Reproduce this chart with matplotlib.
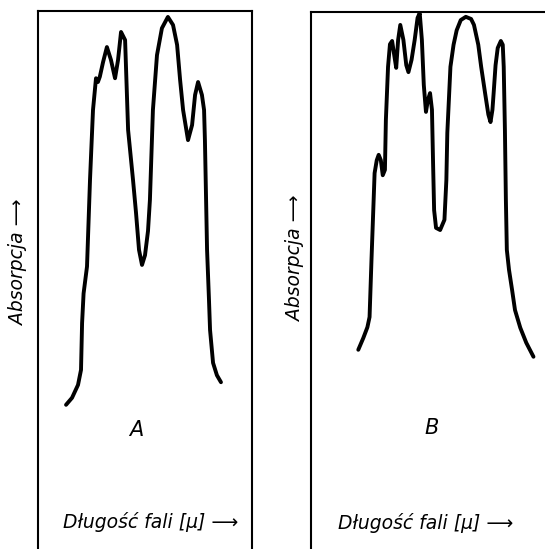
import matplotlib
matplotlib.use("Agg")
import matplotlib.pyplot as plt

# Panel A: relative wavelength (0-100 across frame) and absorption (0-100, top frame = 100)
wave_a = [13.1, 15.9, 18.7, 20.1, 20.6, 21.3, 22.9, 24.3, 25.7, 27.1, 28.0, 28.9, 30.4, 32.2, 34.1,
          36.0, 37.4, 38.8, 40.7, 42.1, 44.4, 45.8, 47.2, 48.6, 50.0, 51.4, 52.3, 53.7, 55.6,
          57.9, 60.7, 63.1, 65.0, 66.4, 67.8, 70.1, 72.0, 73.4, 74.8, 76.6, 77.6, 78.0, 79.0,
          79.9, 80.4, 81.8, 83.6, 85.5]
abs_a = [26.8, 28.1, 30.5, 33.3, 42.0, 47.5, 52.5, 68.6, 81.6, 87.5, 86.8, 87.8, 90.5, 93.3, 90.9,
         87.5, 90.9, 96.1, 94.6, 77.9, 68.6, 62.5, 55.6, 52.8, 54.6, 59.1, 64.9, 81.6, 91.8,
         96.8, 98.9, 97.4, 93.7, 87.2, 81.6, 76.0, 78.8, 84.4, 86.8, 84.4, 81.6, 76.0, 55.6,
         46.3, 40.7, 34.6, 32.3, 31.0]

# Panel B
wave_b = [19.7, 21.8, 23.5, 24.4, 25.2, 26.1, 26.5, 27.4, 28.2, 29.1, 29.9, 30.8, 31.2, 32.1,
          32.9, 33.8, 34.6, 35.5, 36.3, 37.2, 38.5, 39.7, 40.6, 41.9, 43.2, 44.4, 45.3, 46.2,
          47.0, 47.9, 48.7, 49.6, 50.4, 50.9, 51.3, 52.1, 53.8, 55.6, 56.4, 56.8, 58.1, 59.4,
          60.7, 62.4, 64.5, 66.7, 67.9, 69.7, 70.9, 72.6, 73.9, 74.8, 75.6, 76.1, 76.9, 77.8,
          79.1, 79.9, 80.3, 80.8, 81.2, 81.6, 82.5, 83.8, 85.0, 87.2, 89.7, 92.7]
abs_b = [37.1, 39.3, 41.3, 43.2, 53.8, 65.0, 70.0, 72.4, 73.4, 72.4, 69.6, 70.6, 79.9, 89.8,
         94.0, 94.6, 92.2, 89.6, 94.8, 97.6, 94.8, 90.1, 88.8, 91.1, 94.8, 98.9, 99.8, 94.8,
         86.4, 81.4, 83.6, 84.9, 81.8, 71.1, 63.1, 59.8, 59.4, 61.3, 68.7, 77.5, 89.8, 93.9,
         96.6, 98.5, 99.1, 98.7, 97.6, 93.9, 89.8, 84.7, 80.9, 79.5, 81.8, 84.9, 90.1, 93.3,
         94.6, 93.9, 89.8, 78.0, 65.0, 55.7, 52.0, 48.2, 44.5, 41.2, 38.4, 35.8]

panel_labels = ["A", "B"]
xlabel = "Długość fali [μ] ⟶"
ylabel = "Absorpcja ⟶"

W, H = 545, 549
fig = plt.figure(figsize=(W / 100, H / 100), dpi=100)
fig.patch.set_facecolor("white")

def add_panel(left_px, width_px, top_px, show_right):
    ax = fig.add_axes([left_px / W, 0, width_px / W, (H - top_px) / H])
    ax.set_xlim(0, 100)
    ax.set_ylim(0, 100)
    ax.set_xticks([])
    ax.set_yticks([])
    ax.spines["bottom"].set_visible(False)
    ax.spines["right"].set_visible(show_right)
    for s in ax.spines.values():
        s.set_linewidth(1.5)
    ax.patch.set_alpha(0)
    return ax

axA = add_panel(38, 214, 11, True)
axB = add_panel(311, 240, 12, False)

for ax, x, y in [(axA, wave_a, abs_a), (axB, wave_b, abs_b)]:
    ax.plot(x, y, color="black", lw=2.8, solid_joinstyle="round", solid_capstyle="round")

tkw = dict(style="italic", color="black", family="DejaVu Sans")
fig.text(136 / W, 1 - 430 / H, panel_labels[0], fontsize=15, ha="center", va="center", **tkw)
fig.text(432 / W, 1 - 428 / H, panel_labels[1], fontsize=15, ha="center", va="center", **tkw)

fig.text(19 / W, 1 - 262 / H, ylabel, fontsize=13.5, rotation=90, ha="center", va="center", **tkw)
fig.text(296 / W, 1 - 258 / H, ylabel, fontsize=13.5, rotation=90, ha="center", va="center", **tkw)

fig.text(151 / W, 1 - 522 / H, xlabel, fontsize=13.5, ha="center", va="center", **tkw)
fig.text(426 / W, 1 - 523 / H, xlabel, fontsize=13.5, ha="center", va="center", **tkw)

fig.savefig("out.png", dpi=100)
